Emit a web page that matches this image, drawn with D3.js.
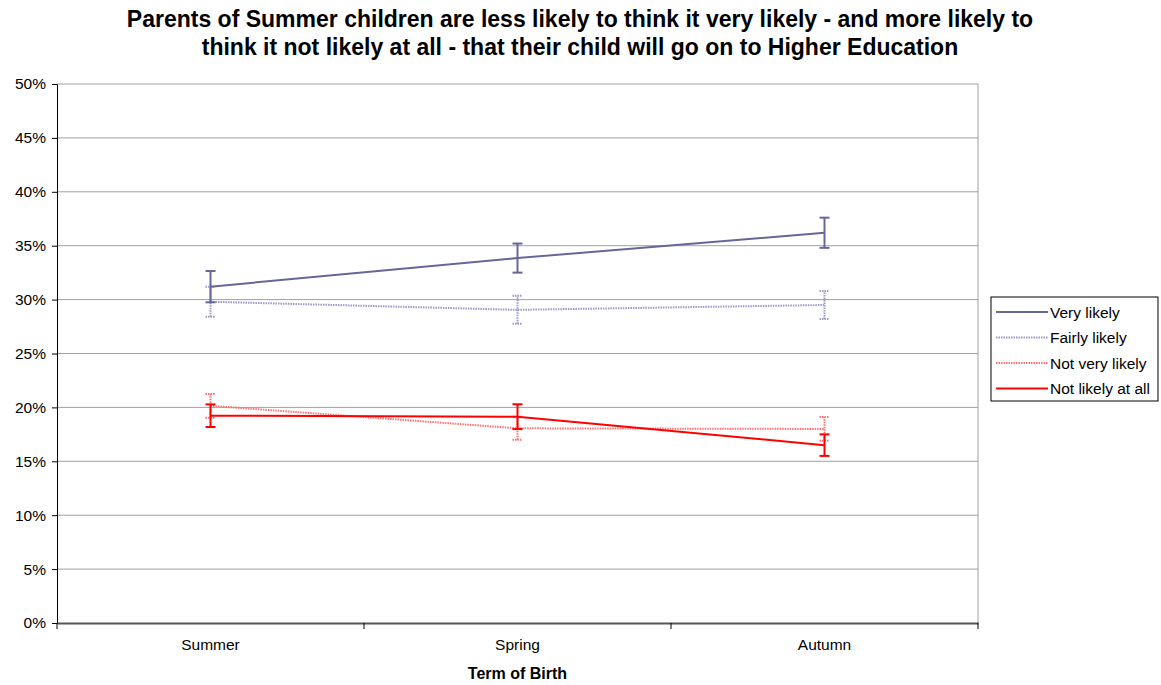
<!DOCTYPE html>
<html><head><meta charset="utf-8">
<script src="https://cdn.jsdelivr.net/npm/d3@7"></script>
<style>body{margin:0;background:#fff;} text{font-family:Arial,"Liberation Sans",sans-serif;}</style>
</head><body><svg id="c" width="1161" height="685"></svg>
<script>
const categories = ["Summer", "Spring", "Autumn"];
const seriesNames = ["Very likely", "Fairly likely", "Not very likely", "Not likely at all"];
const veryLikely = [31.2, 33.85, 36.2];
const veryLikelyErr = [1.45, 1.35, 1.4];
const fairlyLikely = [29.8, 29.05, 29.5];
const fairlyLikelyErr = [1.4, 1.3, 1.3];
const notVeryLikely = [20.15, 18.06, 18.0];
const notVeryLikelyErr = [1.1, 1.07, 1.1];
const notLikelyAtAll = [19.23, 19.14, 16.5];
const notLikelyAtAllErr = [1.05, 1.15, 1.0];
const yTicks = [0,5,10,15,20,25,30,35,40,45,50];
const titleLines = ["Parents of Summer children are less likely to think it very likely - and more likely to",
  "think it not likely at all - that their child will go on to Higher Education"];
const xTitle = "Term of Birth";

const series = [
  {name: seriesNames[0], values: veryLikely, err: veryLikelyErr, color:"#666699", width:2, dash:null},
  {name: seriesNames[1], values: fairlyLikely, err: fairlyLikelyErr, color:"#9999cc", width:2, dash:"1.5,1"},
  {name: seriesNames[2], values: notVeryLikely, err: notVeryLikelyErr, color:"#ff7070", width:2, dash:"1.5,1"},
  {name: seriesNames[3], values: notLikelyAtAll, err: notLikelyAtAllErr, color:"#ff0000", width:2, dash:null}
];

const svg = d3.select("#c");
const L = 57, R = 978, T = 84, B = 623;
const x = d3.scaleBand().domain(categories).range([L, R]);
const y = d3.scaleLinear().domain([0, 50]).range([B, T]);

// title
svg.append("g").selectAll("text").data(titleLines).enter().append("text")
  .attr("x", 580).attr("y", (d,i)=>27+i*28).attr("text-anchor","middle")
  .style("font-size","23px").style("font-weight","bold").text(d=>d);

// gridlines
svg.append("g").selectAll("line").data(yTicks.filter(t=>t>0)).enter().append("line")
  .attr("x1", L).attr("x2", R).attr("y1", d=>y(d)).attr("y2", d=>y(d))
  .attr("stroke","#a0a0a0").attr("stroke-width",1);
// right border
svg.append("line").attr("x1",R).attr("x2",R).attr("y1",T).attr("y2",B).attr("stroke","#a0a0a0");

// y axis
const yAxis = d3.axisLeft(y).tickValues(yTicks).tickFormat(d=>d+"%").tickSize(5).tickPadding(6);
const gy = svg.append("g").attr("transform",`translate(${L},0)`).call(yAxis);
gy.select(".domain").attr("stroke","#000");
gy.selectAll(".tick line").attr("stroke","#000");
gy.selectAll("text").style("font-size","15.5px").style("font-family","Arial").attr("fill","#000");

// x axis
const xAxis = d3.axisBottom(x).tickSize(0).tickPadding(16);
const gx = svg.append("g").attr("transform",`translate(0,${B})`).call(xAxis);
gx.select(".domain").attr("stroke","#555").attr("stroke-width",2);
gx.selectAll("text").style("font-size","15.5px").style("font-family","Arial").attr("fill","#000");
// category boundary ticks
const bounds = categories.map(c=>x(c)).concat([x(categories[categories.length-1])+x.bandwidth()]);
svg.append("g").selectAll("line").data(bounds).enter().append("line")
  .attr("x1",d=>d).attr("x2",d=>d).attr("y1",B).attr("y2",B+6).attr("stroke","#000");

svg.append("text").attr("x",(L+R)/2).attr("y",679).attr("text-anchor","middle")
  .style("font-size","16px").style("font-weight","bold").text(xTitle);

const cx = c => x(c) + x.bandwidth()/2;
const line = d3.line().x((d,i)=>cx(categories[i])).y(d=>y(d));

// draw series (dotted first; solid on top)
const order = [1,2,0,3];
order.forEach(k=>{
  const s = series[k];
  const g = svg.append("g");
  g.append("path").datum(s.values).attr("d", line).attr("fill","none")
    .attr("stroke", s.color).attr("stroke-width", s.width)
    .attr("stroke-dasharray", s.dash);
  s.values.forEach((v,i)=>{
    const px = cx(categories[i]);
    const lo = y(v - s.err[i]), hi = y(v + s.err[i]);
    const eg = g.append("g").attr("stroke", s.color).attr("stroke-width", s.width)
      .attr("stroke-dasharray", s.dash);
    eg.append("line").attr("x1",px).attr("x2",px).attr("y1",lo).attr("y2",hi);
    eg.append("line").attr("x1",px-5).attr("x2",px+5).attr("y1",lo).attr("y2",lo);
    eg.append("line").attr("x1",px-5).attr("x2",px+5).attr("y1",hi).attr("y2",hi);
  });
});

// legend
const lg = svg.append("g").attr("transform","translate(991,297)");
lg.append("rect").attr("width",167).attr("height",104).attr("fill","#fff").attr("stroke","#000");
series.forEach((s,i)=>{
  const yy = 15 + i*25.5;
  lg.append("line").attr("x1",5).attr("x2",57).attr("y1",yy).attr("y2",yy)
    .attr("stroke",s.color).attr("stroke-width",s.width).attr("stroke-dasharray",s.dash);
  lg.append("text").attr("x",59).attr("y",yy+5.5).style("font-size","15.5px").text(s.name);
});
</script></body></html>
